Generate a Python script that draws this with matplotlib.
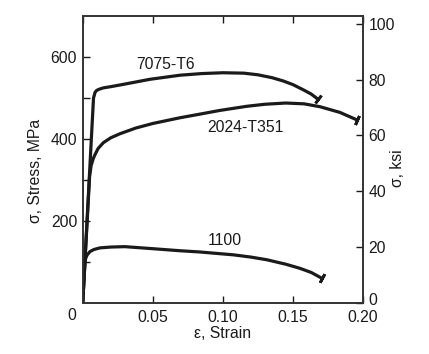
import numpy as np
import matplotlib
matplotlib.use("Agg")
import matplotlib.pyplot as plt
import matplotlib.transforms as mtransforms

plt.rcParams['font.family'] = ['Liberation Sans', 'DejaVu Sans']

# Data (strain, stress in MPa)
strain_7075 = [0.0, 0.0077, 0.0088, 0.0100, 0.0120, 0.0147, 0.0200, 0.0280, 0.0480, 0.0694,
               0.0850, 0.1000, 0.1150, 0.1250, 0.1350, 0.1430, 0.1500, 0.1570, 0.1630, 0.1680]
stress_7075 = [0.0, 500, 514, 519, 522, 525, 528, 533, 546, 556,
               560, 562, 561, 557, 550, 542, 533, 521, 510, 497]

strain_2024 = [0.0, 0.0049, 0.0060, 0.0075, 0.0088, 0.0110, 0.0147, 0.0200, 0.0266, 0.0380,
               0.0500, 0.0694, 0.0838, 0.0980, 0.1170, 0.1300, 0.1450, 0.1580, 0.1693, 0.1836, 0.1955]
stress_2024 = [0.0, 308, 335, 352, 362, 377, 391, 403, 413, 427,
               438, 452, 461, 470, 480, 485, 488, 486, 479, 465, 447]

strain_1100 = [0.0, 0.0017, 0.0030, 0.0052, 0.0080, 0.0123, 0.0200, 0.0300, 0.0500, 0.0694,
               0.0835, 0.1075, 0.1200, 0.1313, 0.1450, 0.1550, 0.1630, 0.1705]
stress_1100 = [0.0, 104, 116, 125, 130, 134, 136, 137, 132, 127,
               124, 117, 111.5, 105, 94, 84, 74, 60]

labels = ["7075-T6", "2024-T351", "1100"]
label_pos = [(0.0594, 581), (0.1163, 427), (0.1013, 151)]

x_ticks = [0, 0.05, 0.10, 0.15, 0.20]
x_ticklabels = ["", "0.05", "0.10", "0.15", "0.20"]
y_ticks = [100, 200, 300, 400, 500, 600]
y_ticklabels = ["", "200", "", "400", "", "600"]
ksi_ticks = [0, 20, 40, 60, 80, 100]
ksi_top = 102.7

fig = plt.figure(figsize=(4.29, 3.54), dpi=100)
ax = fig.add_axes([0.1928, 0.1449, 0.6534, 0.8091])
ax.set_xlim(0, 0.20)
ax.set_ylim(0, 700)

fs = 11.3
lw = 2.3
ink = '#1a1a1a'
series = [(strain_7075, stress_7075), (strain_2024, stress_2024), (strain_1100, stress_1100)]
for xs, ys in series:
    ax.plot(xs, ys, color=ink, lw=lw, solid_joinstyle='round', solid_capstyle='butt', zorder=3)

fig.canvas.draw()
for xs, ys in series:
    p1 = ax.transData.transform((xs[-2], ys[-2]))
    p2 = ax.transData.transform((xs[-1], ys[-1]))
    ang = np.degrees(np.arctan2(p2[1] - p1[1], p2[0] - p1[0]))
    ax.plot([xs[-1]], [ys[-1]], marker=(2, 2, ang), ms=7, mew=2.0, color=ink, zorder=4)

for t, (x, y) in zip(labels, label_pos):
    ax.text(x, y, t, fontsize=fs, ha='center', va='center', color=ink)

ax.set_xticks(x_ticks)
ax.set_xticklabels(x_ticklabels)
ax.set_yticks(y_ticks)
ax.set_yticklabels(y_ticklabels)
ax.tick_params(axis='both', direction='in', length=5, width=1.0, labelsize=fs,
               top=True, pad=5, colors=ink)
ax.tick_params(axis='y', pad=4)
ax.text(-0.038, -0.045, "0", transform=ax.transAxes, fontsize=fs, ha='center', va='center',
        color=ink)
for s in ax.spines.values():
    s.set_linewidth(1.2)
    s.set_color('#333333')

ax.set_xlabel("ε, Strain", fontsize=fs, color=ink, labelpad=1)
ax.set_ylabel("σ, Stress, MPa", fontsize=fs, color=ink)
ax.yaxis.set_label_coords(-0.14, 0.46)

ax2 = ax.twinx()
ax2.set_ylim(0, ksi_top)
ax2.set_yticks(ksi_ticks)
ax2.tick_params(axis='y', direction='in', length=5, width=1.0, labelsize=fs, pad=4,
                colors=ink)
for s in ax2.spines.values():
    s.set_linewidth(1.2)
    s.set_color('#333333')
ax2.set_ylabel("σ, ksi", fontsize=fs, color=ink)
ax2.yaxis.set_label_coords(1.096, 0.47)

fig.canvas.draw()
lbl0 = ax2.get_yticklabels()[0]
lbl0.set_transform(lbl0.get_transform() + mtransforms.ScaledTranslation(0, 3 / 72, fig.dpi_scale_trans))

fig.savefig("out.png", dpi=100)
